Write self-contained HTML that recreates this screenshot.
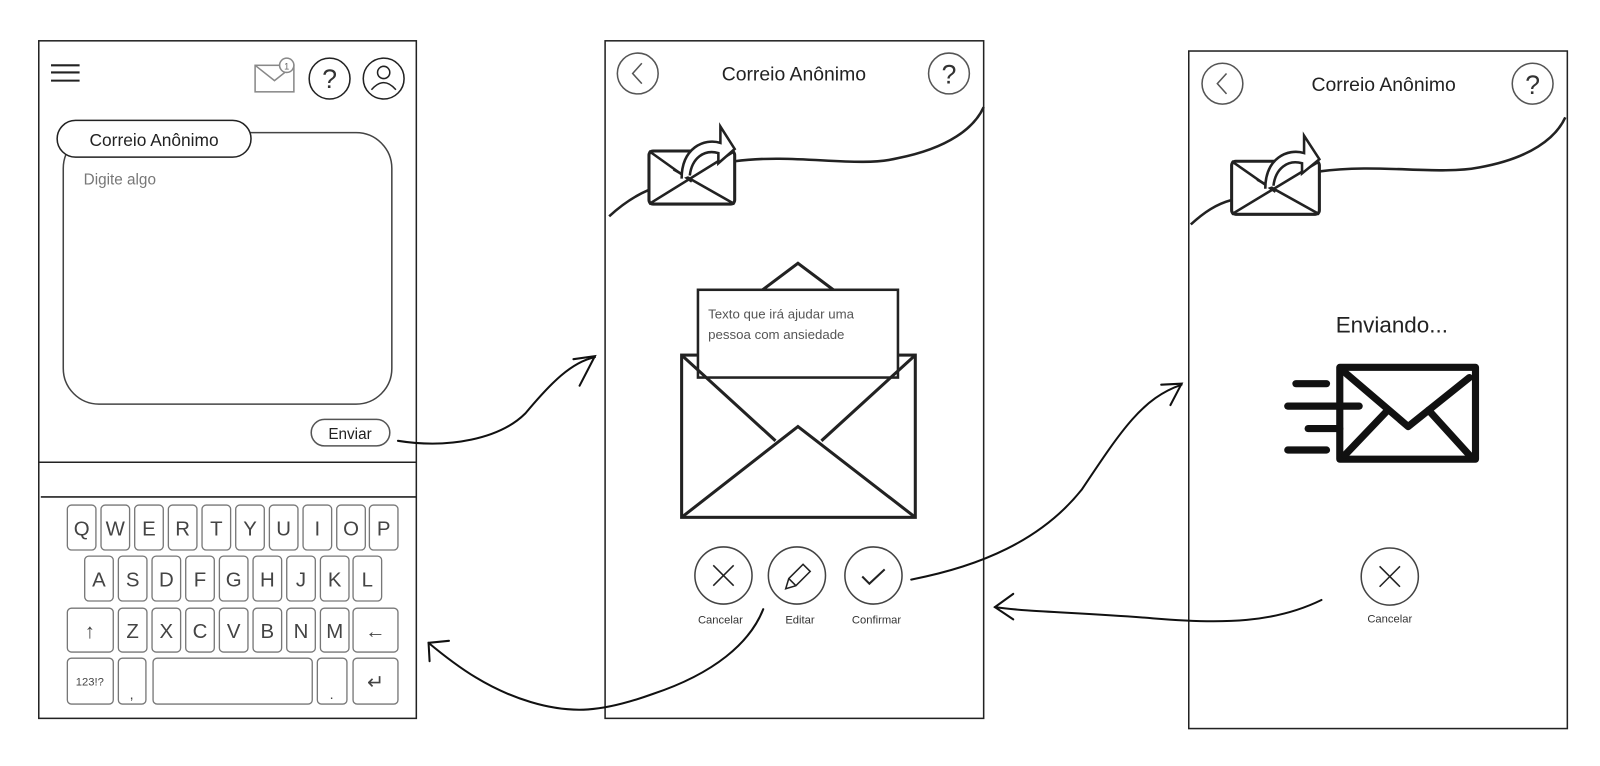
<!DOCTYPE html>
<html><head><meta charset="utf-8"><style>
html,body{margin:0;padding:0;background:#fff;}
svg{display:block}
text{font-family:"Liberation Sans",sans-serif;}
</style></head><body>
<svg width="1600" height="766" viewBox="0 0 1600 766" xmlns="http://www.w3.org/2000/svg">
<rect width="1600" height="766" fill="#fff"/>
<g transform="scale(1.0204)">
<!-- LEFT FRAME -->
<g fill="none" stroke="#222" stroke-width="1.5">
<rect x="38" y="40" width="370" height="664"/>
<line x1="50" y1="64" x2="78" y2="64" stroke-width="2"/>
<line x1="50" y1="71" x2="78" y2="71" stroke-width="2"/>
<line x1="50" y1="79" x2="78" y2="79" stroke-width="2"/>
<rect x="250" y="64" width="38" height="26" stroke="#888"/>
<polyline points="250,64 269,79 288,64" stroke="#888"/>
<circle cx="281" cy="64" r="7" fill="#fff" stroke="#888"/>
<circle cx="323" cy="77" r="20"/>
<circle cx="376" cy="77" r="20"/>
<circle cx="376" cy="71" r="6"/>
<path d="M364,88 q12,-14 24,0"/>
<rect x="62" y="130" width="322" height="266" rx="35" stroke="#444"/>
<rect x="56" y="118" width="190" height="36" rx="18" fill="#fff"/>
<rect x="305" y="411" width="77" height="26" rx="13" stroke="#555"/>
<line x1="38" y1="453" x2="408" y2="453"/>
<line x1="40" y1="487" x2="408" y2="487"/>
</g>
<text x="281" y="68" font-size="9" text-anchor="middle" fill="#666">1</text>
<text x="323" y="86" font-size="26" text-anchor="middle" fill="#333">?</text>
<text x="151" y="143" font-size="17" text-anchor="middle" fill="#222">Correio Anônimo</text>
<text x="82" y="181" font-size="15" fill="#777">Digite algo</text>
<text x="343" y="430" font-size="15" text-anchor="middle" fill="#222">Enviar</text>
<!-- keyboard -->
<g fill="none" stroke="#777" stroke-width="1.3">
<rect x="66" y="495" width="28" height="44" rx="4"/><rect x="99" y="495" width="28" height="44" rx="4"/><rect x="132" y="495" width="28" height="44" rx="4"/><rect x="165" y="495" width="28" height="44" rx="4"/><rect x="198" y="495" width="28" height="44" rx="4"/><rect x="231" y="495" width="28" height="44" rx="4"/><rect x="264" y="495" width="28" height="44" rx="4"/><rect x="297" y="495" width="28" height="44" rx="4"/><rect x="330" y="495" width="28" height="44" rx="4"/><rect x="362" y="495" width="28" height="44" rx="4"/>
<rect x="83" y="545" width="28" height="44" rx="4"/><rect x="116" y="545" width="28" height="44" rx="4"/><rect x="149" y="545" width="28" height="44" rx="4"/><rect x="182" y="545" width="28" height="44" rx="4"/><rect x="215" y="545" width="28" height="44" rx="4"/><rect x="248" y="545" width="28" height="44" rx="4"/><rect x="281" y="545" width="28" height="44" rx="4"/><rect x="314" y="545" width="28" height="44" rx="4"/><rect x="346" y="545" width="28" height="44" rx="4"/>
<rect x="66" y="596" width="45" height="43" rx="4"/><rect x="116" y="596" width="28" height="43" rx="4"/><rect x="149" y="596" width="28" height="43" rx="4"/><rect x="182" y="596" width="28" height="43" rx="4"/><rect x="215" y="596" width="28" height="43" rx="4"/><rect x="248" y="596" width="28" height="43" rx="4"/><rect x="281" y="596" width="28" height="43" rx="4"/><rect x="314" y="596" width="28" height="43" rx="4"/><rect x="346" y="596" width="44" height="43" rx="4"/>
<rect x="66" y="645" width="45" height="45" rx="4"/><rect x="116" y="645" width="27" height="45" rx="4"/><rect x="150" y="645" width="156" height="45" rx="4"/><rect x="311" y="645" width="29" height="45" rx="4"/><rect x="346" y="645" width="44" height="45" rx="4"/>
</g>
<g font-size="20" fill="#444" text-anchor="middle">
<text x="80" y="525">Q</text><text x="113" y="525">W</text><text x="146" y="525">E</text><text x="179" y="525">R</text><text x="212" y="525">T</text><text x="245" y="525">Y</text><text x="278" y="525">U</text><text x="311" y="525">I</text><text x="344" y="525">O</text><text x="376" y="525">P</text>
<text x="97" y="575">A</text><text x="130" y="575">S</text><text x="163" y="575">D</text><text x="196" y="575">F</text><text x="229" y="575">G</text><text x="262" y="575">H</text><text x="295" y="575">J</text><text x="328" y="575">K</text><text x="360" y="575">L</text>
<text x="88" y="625">↑</text><text x="130" y="625">Z</text><text x="163" y="625">X</text><text x="196" y="625">C</text><text x="229" y="625">V</text><text x="262" y="625">B</text><text x="295" y="625">N</text><text x="328" y="625">M</text><text x="368" y="625">←</text>
<text x="129" y="685" font-size="14">,</text><text x="325" y="685" font-size="14">.</text><text x="368" y="675">↵</text>
<text x="88" y="672" font-size="11">123!?</text>
</g>
<!-- MIDDLE FRAME -->
<g fill="none" stroke="#222" stroke-width="1.5">
<rect x="593" y="40" width="371" height="664"/>
<circle cx="625" cy="72" r="20" stroke="#555"/>
<polyline points="629,62 620,72 629,82" stroke="#555"/>
<circle cx="930" cy="72" r="20" stroke="#555"/>
<path d="M597,212 C610,200 622,192 636,186" stroke-width="2.5"/>
<path d="M720,158 C780,150 840,165 880,155 C930,145 955,125 964,105" stroke-width="2.5"/>
<rect x="636" y="148" width="84" height="52" rx="4" stroke-width="3" fill="#fff"/>
<polyline points="636,148 678,178" stroke-width="2.5"/><line x1="720" y1="148" x2="636" y2="200" stroke-width="2.5"/><line x1="660" y1="166" x2="720" y2="200" stroke-width="2.5"/>
<path d="M668,175 C668,145 690,135 706,140 L706,124 L720,146 L704,160 L704,150 C690,146 678,155 676,172" fill="#fff" stroke-width="2.5"/>
<polyline points="742,288 782,258 822,288" stroke-width="3"/>
<rect x="668" y="348" width="229" height="159" stroke-width="3"/>
<rect x="684" y="284" width="196" height="86" fill="#fff" stroke-width="2.5"/>
<polyline points="668,348 760,432" stroke-width="3"/><polyline points="897,348 805,432" stroke-width="3"/>
<polyline points="668,507 782,418 897,507" stroke-width="3"/>
<circle cx="709" cy="564" r="28" stroke="#444"/>
<line x1="699" y1="554" x2="719" y2="574"/><line x1="719" y1="554" x2="699" y2="574"/>
<circle cx="781" cy="564" r="28" stroke="#444"/>
<path d="M770,577 l3,-10 l14,-14 l7,7 l-14,14 z M773,567 l7,7"/>
<circle cx="856" cy="564" r="28" stroke="#444"/>
<polyline points="845,565 852,572 867,558" stroke-width="2"/>
</g>
<text x="778" y="79" font-size="19" text-anchor="middle" fill="#222">Correio Anônimo</text>
<text x="930" y="82" font-size="26" text-anchor="middle" fill="#333">?</text>
<text x="694" y="312" font-size="13" fill="#555">Texto que irá ajudar uma</text>
<text x="694" y="332" font-size="13" fill="#555">pessoa com ansiedade</text>
<text x="706" y="611" font-size="11" text-anchor="middle" fill="#333">Cancelar</text>
<text x="784" y="611" font-size="11" text-anchor="middle" fill="#333">Editar</text>
<text x="859" y="611" font-size="11" text-anchor="middle" fill="#333">Confirmar</text>
<!-- RIGHT FRAME -->
<g fill="none" stroke="#222" stroke-width="1.5">
<rect x="1165" y="50" width="371" height="664"/>
<circle cx="1198" cy="82" r="20" stroke="#555"/>
<polyline points="1202,72 1193,82 1202,92" stroke="#555"/>
<circle cx="1502" cy="82" r="20" stroke="#555"/>
<path d="M1167,220 C1180,208 1192,200 1207,196" stroke-width="2.5"/>
<path d="M1293,168 C1350,160 1410,172 1450,164 C1500,155 1525,135 1534,115" stroke-width="2.5"/>
<rect x="1207" y="158" width="86" height="52" rx="4" stroke-width="3" fill="#fff"/>
<line x1="1207" y1="158" x2="1250" y2="188" stroke-width="2.5"/><line x1="1293" y1="158" x2="1207" y2="210" stroke-width="2.5"/><line x1="1232" y1="176" x2="1293" y2="210" stroke-width="2.5"/>
<path d="M1240,185 C1240,155 1262,145 1278,150 L1278,133 L1293,156 L1276,170 L1276,160 C1262,156 1250,165 1248,182" fill="#fff" stroke-width="2.5"/>
<circle cx="1362" cy="565" r="28" stroke="#444"/>
<line x1="1352" y1="555" x2="1372" y2="575"/><line x1="1372" y1="555" x2="1352" y2="575"/>
</g>
<g fill="none" stroke="#111" stroke-width="7" stroke-linecap="round" stroke-linejoin="round">
<rect x="1313" y="360" width="133" height="90"/>
<polyline points="1318,365 1380,418 1440,370"/>
<line x1="1318" y1="446" x2="1360" y2="402"/><line x1="1440" y1="446" x2="1400" y2="402"/>
<line x1="1270" y1="376" x2="1300" y2="376"/>
<line x1="1262" y1="398" x2="1332" y2="398"/>
<line x1="1282" y1="420" x2="1313" y2="420"/>
<line x1="1262" y1="441" x2="1300" y2="441"/>
</g>
<text x="1356" y="89" font-size="19" text-anchor="middle" fill="#222">Correio Anônimo</text>
<text x="1502" y="92" font-size="26" text-anchor="middle" fill="#333">?</text>
<text x="1364" y="326" font-size="22" text-anchor="middle" fill="#222">Enviando...</text>
<text x="1362" y="610" font-size="11" text-anchor="middle" fill="#333">Cancelar</text>
<!-- ARROWS -->
<g fill="none" stroke="#111" stroke-width="2" stroke-linecap="round">
<path d="M390,432 C440,440 490,430 515,405 C540,375 560,355 583,350"/>
<path d="M562,352 L583,349 L568,378"/>
<path d="M893,568 C960,555 1020,530 1060,480 C1100,420 1120,390 1158,377"/>
<path d="M1138,377 L1158,376 L1147,397"/>
<path d="M1295,588 C1250,610 1200,612 1130,606 C1060,600 1010,600 975,595"/>
<path d="M993,582 L975,595 L993,607"/>
<path d="M748,597 C735,630 700,660 640,680 C590,698 560,700 520,688 C480,676 450,655 420,630"/>
<path d="M421,648 L420,630 L440,628"/>
</g>
</g>
</svg>
</body></html>
